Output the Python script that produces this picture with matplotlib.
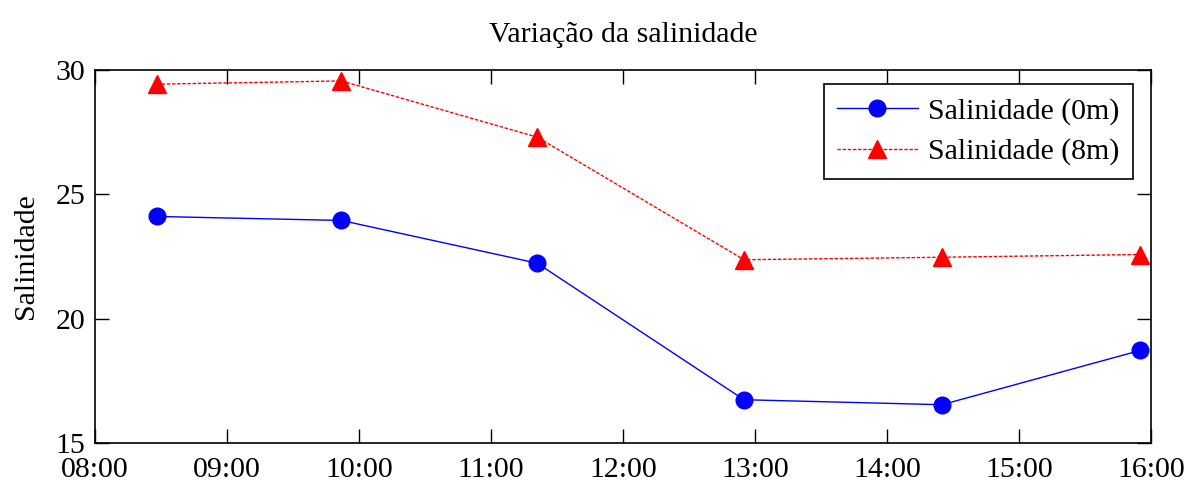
import matplotlib

matplotlib.use("Agg")

import matplotlib.pyplot as plt
import matplotlib.dates as mdates
import numpy as np

# Sampling times (HH:MM) and salinity at two depths
times = ["08:28", "09:52", "11:21", "12:55", "14:25", "15:55"]
sal_0m = [24.11, 23.95, 22.23, 16.74, 16.54, 18.72]
sal_8m = [29.43, 29.56, 27.30, 22.37, 22.47, 22.58]

hour_ticks = ["08:00", "09:00", "10:00", "11:00", "12:00", "13:00", "14:00", "15:00", "16:00"]
y_ticks = [15, 20, 25, 30]

plt.rcParams["font.family"] = ["Liberation Serif", "DejaVu Serif"]
FS = 21.5
plt.rcParams["font.size"] = FS


def to_dt(labels):
    return np.array(["2000-01-01T" + t for t in labels], dtype="datetime64[m]")


x = to_dt(times)
xt = to_dt(hour_ticks)

fig = plt.figure(figsize=(11.89, 4.83), dpi=100)
ax = fig.add_axes([95 / 1189, 1 - 443 / 483, (1151 - 95) / 1189, (443 - 70) / 483])

ax.plot(x, sal_0m, color="#0000ff", linewidth=1.0, marker="o", markersize=12,
        label="Salinidade (0m)")
ax.plot(x, sal_8m, color="#ff0000", linewidth=1.0, linestyle=(0, (2.5, 1.2)),
        marker="^", markersize=13, label="Salinidade (8m)")

ax.set_xlim(xt[0], xt[-1])
ax.set_ylim(15, 30)
ax.set_xticks(xt)
ax.xaxis.set_major_formatter(mdates.DateFormatter("%H:%M"))
ax.set_yticks(y_ticks)

ax.tick_params(direction="in", length=10, width=1, top=True, right=True)
ax.tick_params(axis="x", pad=10)
ax.tick_params(axis="y", pad=7)
for spine in ax.spines.values():
    spine.set_linewidth(1.2)

ax.set_title("Variação da salinidade", fontsize=FS, pad=20)
ax.set_ylabel("Salinidade", fontsize=FS, labelpad=12)

leg = ax.legend(loc="upper right", bbox_to_anchor=(1133 / 1189, 1 - 84 / 483),
                bbox_transform=fig.transFigure, borderaxespad=0, fancybox=False,
                framealpha=1, edgecolor="black", fontsize=FS, handlelength=2.7,
                borderpad=0.45, labelspacing=0.45, handletextpad=0.35)
leg.get_frame().set_linewidth(1.2)

fig.savefig("out.png", dpi=100)
plt.close(fig)
